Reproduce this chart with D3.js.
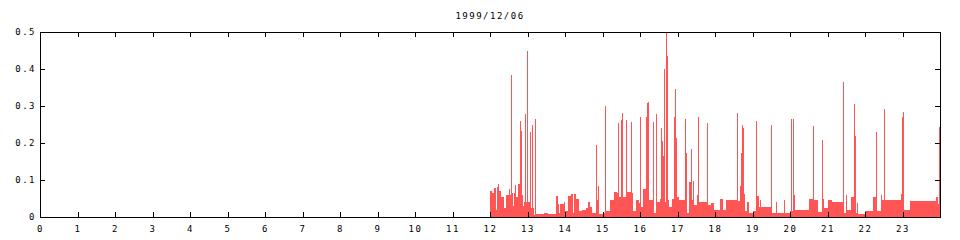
<!DOCTYPE html>
<html><head><meta charset="utf-8">
<script src="https://cdn.jsdelivr.net/npm/d3@7"></script>
<style>
html,body{margin:0;padding:0;background:#fff;}
text{font-family:"DejaVu Sans Mono",monospace;font-size:9px;letter-spacing:1.5px;fill:#000;}
</style></head>
<body><svg id="c" width="960" height="240"></svg>
<script>
const title = "1999/12/06";
const xTicks = d3.range(0, 24);
const yTicks = [0, 0.1, 0.2, 0.3, 0.4, 0.5];
// baseline step levels: start hour, value
const baseHours = [12.00,12.05,12.11,12.15,12.18,12.21,12.25,12.30,12.37,12.42,12.50,12.53,12.58,12.61,12.63,12.66,12.70,12.75,12.82,12.87,12.90,13.02,13.10,13.18,13.22,13.45,13.55,13.76,13.80,13.83,13.87,13.96,14.00,14.08,14.16,14.20,14.25,14.29,14.36,14.45,14.55,14.60,14.66,14.72,14.84,14.88,14.90,15.00,15.08,15.20,15.30,15.38,15.45,15.55,15.64,15.77,15.82,15.88,15.97,16.02,16.09,16.15,16.22,16.36,16.43,16.53,16.66,16.74,16.78,16.84,16.98,17.04,17.22,17.30,17.38,17.42,17.44,17.52,17.56,17.80,17.88,17.98,18.04,18.06,18.13,18.22,18.30,18.60,18.67,18.69,18.76,18.80,18.85,18.91,19.00,19.12,19.16,19.20,19.22,19.52,19.63,19.65,19.85,19.87,20.00,20.11,20.14,20.50,20.62,20.74,20.88,20.90,21.02,21.12,21.42,21.50,21.52,21.62,21.76,21.78,21.82,22.00,22.22,22.32,22.42,22.45,22.52,22.95,23.02,23.20,23.90,23.94];
const baseValues = [0.070,0.065,0.078,0.020,0.080,0.090,0.070,0.055,0.025,0.060,0.075,0.060,0.065,0.030,0.065,0.087,0.054,0.090,0.060,0.030,0.040,0.040,0.025,0.006,0.009,0.012,0.009,0.057,0.035,0.010,0.035,0.040,0.017,0.058,0.062,0.012,0.062,0.050,0.015,0.020,0.023,0.040,0.026,0.012,0.046,0.084,0.008,0.012,0.017,0.046,0.068,0.064,0.055,0.055,0.068,0.064,0.015,0.046,0.037,0.028,0.077,0.050,0.046,0.010,0.040,0.050,0.040,0.046,0.028,0.050,0.055,0.046,0.010,0.095,0.046,0.098,0.032,0.060,0.041,0.032,0.037,0.019,0.044,0.019,0.048,0.019,0.046,0.044,0.084,0.028,0.062,0.015,0.041,0.012,0.017,0.057,0.028,0.046,0.028,0.012,0.041,0.010,0.046,0.010,0.016,0.060,0.019,0.050,0.046,0.014,0.049,0.023,0.046,0.041,0.012,0.060,0.019,0.055,0.010,0.037,0.008,0.016,0.055,0.017,0.060,0.046,0.045,0.062,0.019,0.043,0.054,0.036];
// narrow spikes
const spikeHours = [12.56,12.79,12.83,12.93,12.995,13.07,13.11,13.19,14.82,15.07,15.40,15.50,15.52,15.62,15.63,15.75,16.00,16.16,16.18,16.19,16.21,16.34,16.42,16.56,16.59,16.61,16.64,16.70,16.72,16.90,16.93,16.95,16.97,17.20,17.22,17.37,17.55,17.78,18.58,18.70,18.72,18.75,19.10,19.50,20.03,20.08,20.60,20.86,21.40,21.71,21.73,22.30,22.50,22.99,23.01,23.97];
const spikeValues = [0.385,0.26,0.233,0.278,0.45,0.23,0.25,0.266,0.195,0.30,0.255,0.262,0.28,0.19,0.262,0.257,0.27,0.27,0.307,0.28,0.31,0.257,0.278,0.24,0.206,0.165,0.40,0.50,0.436,0.27,0.346,0.204,0.214,0.264,0.172,0.183,0.27,0.255,0.28,0.172,0.249,0.24,0.26,0.25,0.265,0.265,0.246,0.208,0.365,0.305,0.22,0.23,0.292,0.27,0.284,0.244];

const svg = d3.select("#c");
svg.append("rect").attr("width",960).attr("height",240).attr("fill","#fff");
const L=40, R=940, T=32, B=217;
const x = d3.scaleLinear().domain([0,24]).range([L,R]);
const y = d3.scaleLinear().domain([0,0.5]).range([B,T]);
const col = "#ff5555";

const base = baseHours.map((h,i)=>({h0:h, h1: i+1<baseHours.length?baseHours[i+1]:24, v:baseValues[i]}));
svg.append("g").selectAll("rect").data(base).join("rect")
  .attr("x",d=>x(d.h0)).attr("width",d=>x(d.h1)-x(d.h0))
  .attr("y",d=>y(d.v)).attr("height",d=>y(0)-y(d.v))
  .attr("fill",col).attr("shape-rendering","crispEdges");
const spikes = spikeHours.map((h,i)=>({h, v:spikeValues[i]}));
svg.append("g").selectAll("rect").data(spikes).join("rect")
  .attr("x",d=>Math.round(x(d.h))).attr("width",1)
  .attr("y",d=>y(d.v)).attr("height",d=>y(0)-y(d.v))
  .attr("fill",col).attr("shape-rendering","crispEdges");

// axes (inward ticks, mirrored)
const ax = svg.append("g").attr("shape-rendering","crispEdges");
const axB = d3.axisBottom(x).tickValues(xTicks).tickSize(-5).tickPadding(9).tickFormat(d3.format("d"));
const axT = d3.axisTop(x).tickValues(xTicks).tickSize(-5).tickFormat("");
const axL = d3.axisLeft(y).tickValues(yTicks).tickSize(-5).tickPadding(4).tickFormat(d=>d===0?"0":d3.format(".1f")(d));
const axR = d3.axisRight(y).tickValues(yTicks.slice(1,5)).tickSize(-5).tickFormat("");
ax.append("g").attr("transform",`translate(0,${B})`).call(axB);
ax.append("g").attr("transform",`translate(0,${T})`).call(axT);
ax.append("g").attr("transform",`translate(${L},0)`).call(axL);
ax.append("g").attr("transform",`translate(${R},0)`).call(axR);
ax.selectAll(".domain").remove();
ax.selectAll("line").attr("stroke","#000");
ax.selectAll("text").attr("fill","#000").style("font-family","'DejaVu Sans Mono',monospace").style("font-size","9px");
svg.append("rect").attr("x",L+0.5).attr("y",T+0.5).attr("width",R-L).attr("height",B-T)
  .attr("fill","none").attr("stroke","#000").attr("shape-rendering","crispEdges");
svg.append("text").attr("x",490).attr("y",16).attr("text-anchor","middle").attr("dominant-baseline","middle").text(title);
</script></body></html>
